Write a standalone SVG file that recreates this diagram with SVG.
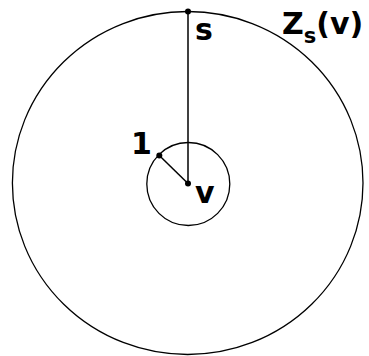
<svg xmlns="http://www.w3.org/2000/svg" width="369" height="356" viewBox="0 0 369 356">
<style>
.c{fill:none;stroke:#000;stroke-width:1.3}
.e{stroke:#000;stroke-width:1.5}
.d{fill:#000}
.t{font-family:"DejaVu Sans",sans-serif;font-weight:bold;font-size:30px;fill:#000}
</style>
<rect width="369" height="356" fill="#fff"/>
<g id="outer"><ellipse class="c" cx="187.7" cy="183" rx="175.3" ry="171.5"/></g>
<g id="inner"><circle class="c" cx="188.3" cy="184" r="41.5"/></g>
<g id="connectors">
<line class="e" x1="188" y1="11.5" x2="188" y2="183.5"/>
<line class="e" x1="159.3" y1="155.5" x2="188" y2="183.5"/>
</g>
<g id="node-s"><circle class="d" cx="188" cy="11.5" r="3"/><text class="t" x="195" y="40">s</text></g>
<g id="node-1"><circle class="d" cx="159.3" cy="155.5" r="3"/><text class="t" x="131" y="154">1</text></g>
<g id="node-v"><circle class="d" cx="188" cy="183.5" r="3"/><text class="t" x="195" y="203">v</text></g>
<g id="label-Z"><text class="t" x="282" y="34">Z<tspan font-size="21" dy="9">s</tspan><tspan dy="-9">(v)</tspan></text></g>
</svg>
